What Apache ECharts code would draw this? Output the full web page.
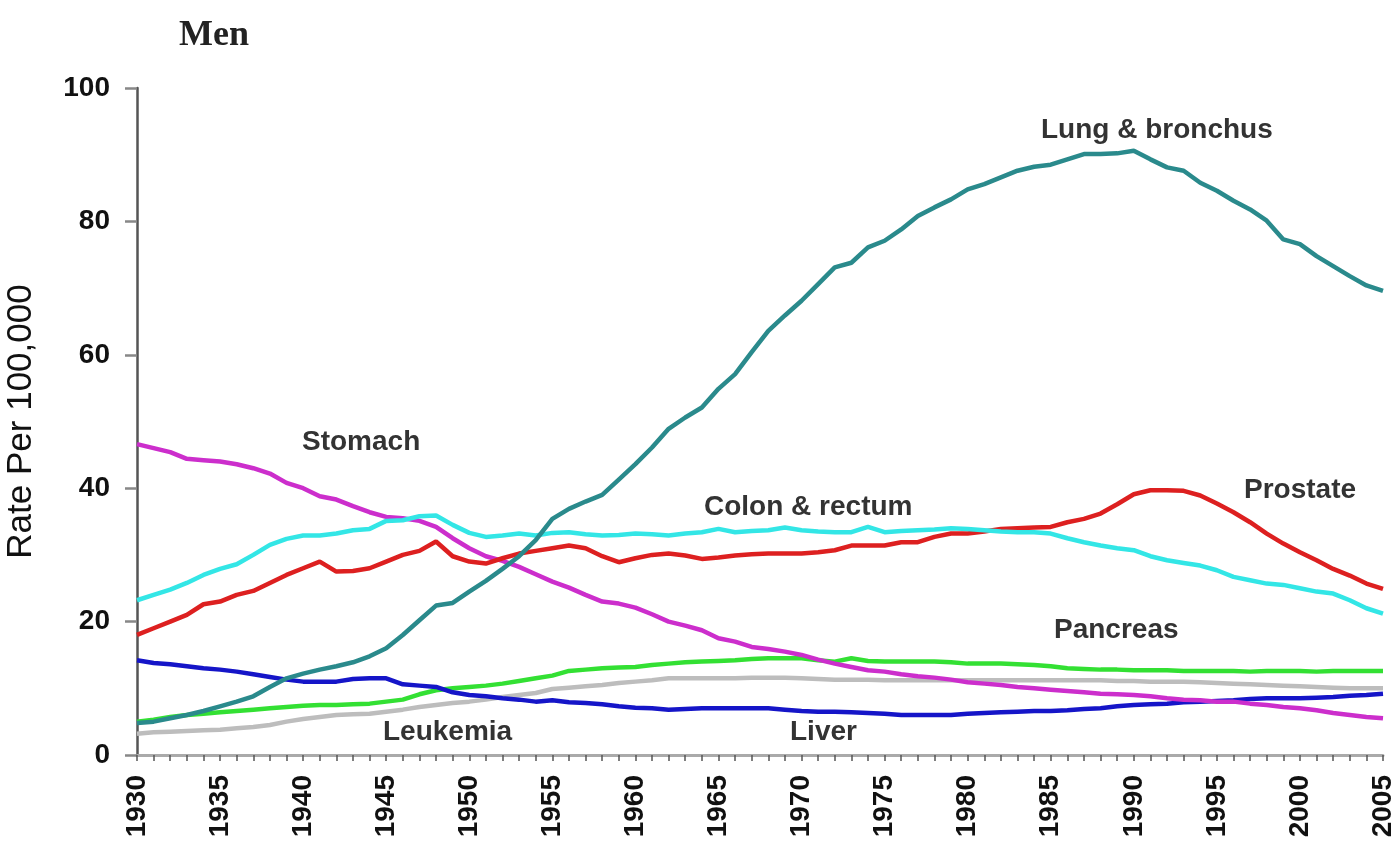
<!DOCTYPE html>
<html>
<head>
<meta charset="utf-8">
<script src="https://cdn.jsdelivr.net/npm/echarts@6/dist/echarts.min.js"></script>
<style>
html,body{margin:0;padding:0;background:#fff;}
#chart{width:1391px;height:848px;}
</style>
</head>
<body>
<div id="chart"></div>
<script>
const years = [];
for (let y = 1930; y <= 2005; y++) years.push(y);

const lungBronchus = [4.8,5.0,5.5,6.0,6.6,7.3,8.0,8.8,10.2,11.5,12.2,12.8,13.3,13.9,14.8,16.0,18.0,20.2,22.4,22.8,24.5,26.1,27.9,29.8,32.2,
35.4,36.9,38.0,39.0,41.3,43.6,46.1,48.9,50.6,52.1,54.9,57.1,60.4,63.6,65.9,68.1,70.6,73.1,73.8,76.1,77.1,78.8,80.8,82.1,83.3,
84.8,85.6,86.6,87.6,88.2,88.5,89.3,90.1,90.1,90.2,90.6,89.3,88.1,87.6,85.8,84.6,83.1,81.8,80.1,77.3,76.6,74.8,73.3,71.8,70.4,69.6];

const stomach = [46.6,46.0,45.4,44.4,44.2,44.0,43.6,43.0,42.2,40.8,40.0,38.8,38.3,37.3,36.4,35.7,35.5,35.1,34.2,32.5,31.0,29.8,29.1,28.2,27.1,
26.0,25.1,24.0,23.0,22.7,22.1,21.1,20.0,19.4,18.7,17.5,17.0,16.2,15.9,15.5,15.0,14.3,13.7,13.2,12.7,12.5,12.1,11.8,11.6,11.3,
10.9,10.7,10.5,10.2,10.0,9.8,9.6,9.4,9.2,9.1,9.0,8.8,8.5,8.3,8.2,8.0,8.0,7.7,7.5,7.2,7.0,6.7,6.3,6.0,5.7,5.5];

const colonRectum = [23.2,24.0,24.8,25.8,27.0,27.9,28.6,30.0,31.5,32.4,32.9,32.9,33.2,33.7,33.9,35.1,35.2,35.8,35.9,34.5,33.3,32.7,32.9,33.2,32.9,
33.3,33.4,33.1,32.9,33.0,33.2,33.1,32.9,33.2,33.4,33.9,33.4,33.6,33.7,34.1,33.7,33.5,33.4,33.4,34.2,33.4,33.6,33.7,33.8,34.0,
33.9,33.7,33.5,33.4,33.4,33.2,32.5,31.9,31.4,31.0,30.7,29.8,29.2,28.8,28.4,27.7,26.7,26.2,25.7,25.5,25.0,24.5,24.2,23.2,22.0,21.2];

const prostate = [18.0,19.0,20.0,21.0,22.6,23.0,24.0,24.6,25.8,27.0,28.0,29.0,27.5,27.6,28.0,29.0,30.0,30.6,32.0,29.8,29.0,28.7,29.5,30.2,30.6,
31.0,31.4,31.0,29.8,28.9,29.5,30.0,30.2,29.9,29.4,29.6,29.9,30.1,30.2,30.2,30.2,30.4,30.7,31.4,31.4,31.4,31.9,31.9,32.7,33.2,
33.2,33.5,33.9,34.0,34.1,34.2,34.9,35.4,36.2,37.6,39.1,39.7,39.7,39.6,38.9,37.7,36.4,34.9,33.2,31.7,30.4,29.2,27.9,26.9,25.7,24.9];

const pancreas = [5.0,5.3,5.7,6.0,6.2,6.4,6.6,6.8,7.0,7.2,7.4,7.5,7.5,7.6,7.7,8.0,8.3,9.1,9.7,10.0,10.2,10.4,10.7,11.1,11.5,
11.9,12.6,12.8,13.0,13.1,13.2,13.5,13.7,13.9,14.0,14.1,14.2,14.4,14.5,14.5,14.5,14.2,14.0,14.5,14.1,14.0,14.0,14.0,14.0,13.9,
13.7,13.7,13.7,13.6,13.5,13.3,13.0,12.9,12.8,12.8,12.7,12.7,12.7,12.6,12.6,12.6,12.6,12.5,12.6,12.6,12.6,12.5,12.6,12.6,12.6,12.6];

const leukemia = [3.2,3.4,3.5,3.6,3.7,3.8,4.0,4.2,4.5,5.0,5.4,5.7,6.0,6.1,6.2,6.5,6.8,7.2,7.5,7.8,8.0,8.3,8.7,9.0,9.3,
9.9,10.1,10.3,10.5,10.8,11.0,11.2,11.5,11.5,11.5,11.5,11.5,11.6,11.6,11.6,11.5,11.4,11.3,11.3,11.3,11.2,11.2,11.2,11.2,11.2,
11.2,11.2,11.2,11.2,11.2,11.2,11.2,11.2,11.2,11.1,11.1,11.0,11.0,11.0,10.9,10.8,10.7,10.6,10.5,10.4,10.3,10.2,10.1,10.0,10.0,10.0];

const liver = [14.2,13.8,13.6,13.3,13.0,12.8,12.5,12.1,11.7,11.3,11.0,11.0,11.0,11.4,11.5,11.5,10.6,10.4,10.2,9.4,9.0,8.8,8.5,8.3,8.0,
8.2,7.9,7.8,7.6,7.3,7.1,7.0,6.8,6.9,7.0,7.0,7.0,7.0,7.0,6.8,6.6,6.5,6.5,6.4,6.3,6.2,6.0,6.0,6.0,6.0,
6.2,6.3,6.4,6.5,6.6,6.6,6.7,6.9,7.0,7.3,7.5,7.6,7.7,7.9,8.0,8.1,8.2,8.4,8.5,8.5,8.5,8.6,8.7,8.9,9.0,9.2];

const seriesDefs = [
  {name:'Leukemia', data:leukemia, color:'#BDBDBD'},
  {name:'Pancreas', data:pancreas, color:'#33E033'},
  {name:'Liver', data:liver, color:'#1515C8'},
  {name:'Stomach', data:stomach, color:'#CC2ECC'},
  {name:'Prostate', data:prostate, color:'#DD2020'},
  {name:'Colon & rectum', data:colonRectum, color:'#33E6E6'},
  {name:'Lung & bronchus', data:lungBronchus, color:'#2A8A8C'}
];

const textLabels = [
  {text:'Lung & bronchus', left:1041, top:116},
  {text:'Stomach', left:302, top:428},
  {text:'Colon & rectum', left:704, top:493},
  {text:'Prostate', left:1244, top:476},
  {text:'Pancreas', left:1054, top:616},
  {text:'Leukemia', left:383, top:718},
  {text:'Liver', left:790, top:718}
];

const chart = echarts.init(document.getElementById('chart'));
chart.setOption({
  animation:false,
  backgroundColor:'#fff',
  grid:{left:137, right:8, top:88, bottom:93, containLabel:false, outerBoundsMode:'none'},
  title:{text:'Men', left:174, top:13, textStyle:{fontFamily:'Liberation Serif', fontWeight:'bold', fontSize:36, color:'#222'}},
  xAxis:{
    type:'value', min:1930, max:2005, interval:5,
    axisLine:{show:true, lineStyle:{color:'#aaa', width:3}},
    axisTick:{show:true, length:6, lineStyle:{color:'#555', width:1.5}},
    minorTick:{show:true, splitNumber:5, length:6, lineStyle:{color:'#555', width:1.5}},
    splitLine:{show:false},
    axisLabel:{rotate:90, margin:20, fontFamily:'Liberation Sans', fontWeight:'bold', fontSize:28, color:'#111', formatter:v=>String(v)}
  },
  yAxis:{
    type:'value', min:0, max:100, interval:20,
    name:'Rate Per 100,000', nameLocation:'middle', nameGap:98,
    nameTextStyle:{fontFamily:'Liberation Sans', fontSize:35, color:'#111'},
    axisLine:{show:true, lineStyle:{color:'#555', width:2.5}},
    axisTick:{show:true, length:12, lineStyle:{color:'#888', width:2.5}},
    splitLine:{show:false},
    axisLabel:{margin:27, fontFamily:'Liberation Sans', fontWeight:'bold', fontSize:28, color:'#111'}
  },
  series: seriesDefs.map(s => ({
    name:s.name, type:'line', showSymbol:false, smooth:false,
    data: years.map((y,i)=>[y, s.data[i]]),
    lineStyle:{color:s.color, width:4.5},
    itemStyle:{color:s.color}
  })),
  graphic: textLabels.map(t => ({
    type:'text', left:t.left, top:t.top,
    style:{text:t.text, fontFamily:'Liberation Sans', fontWeight:'bold', fontSize:28, fill:'#333'}
  }))
});
</script>
</body>
</html>
